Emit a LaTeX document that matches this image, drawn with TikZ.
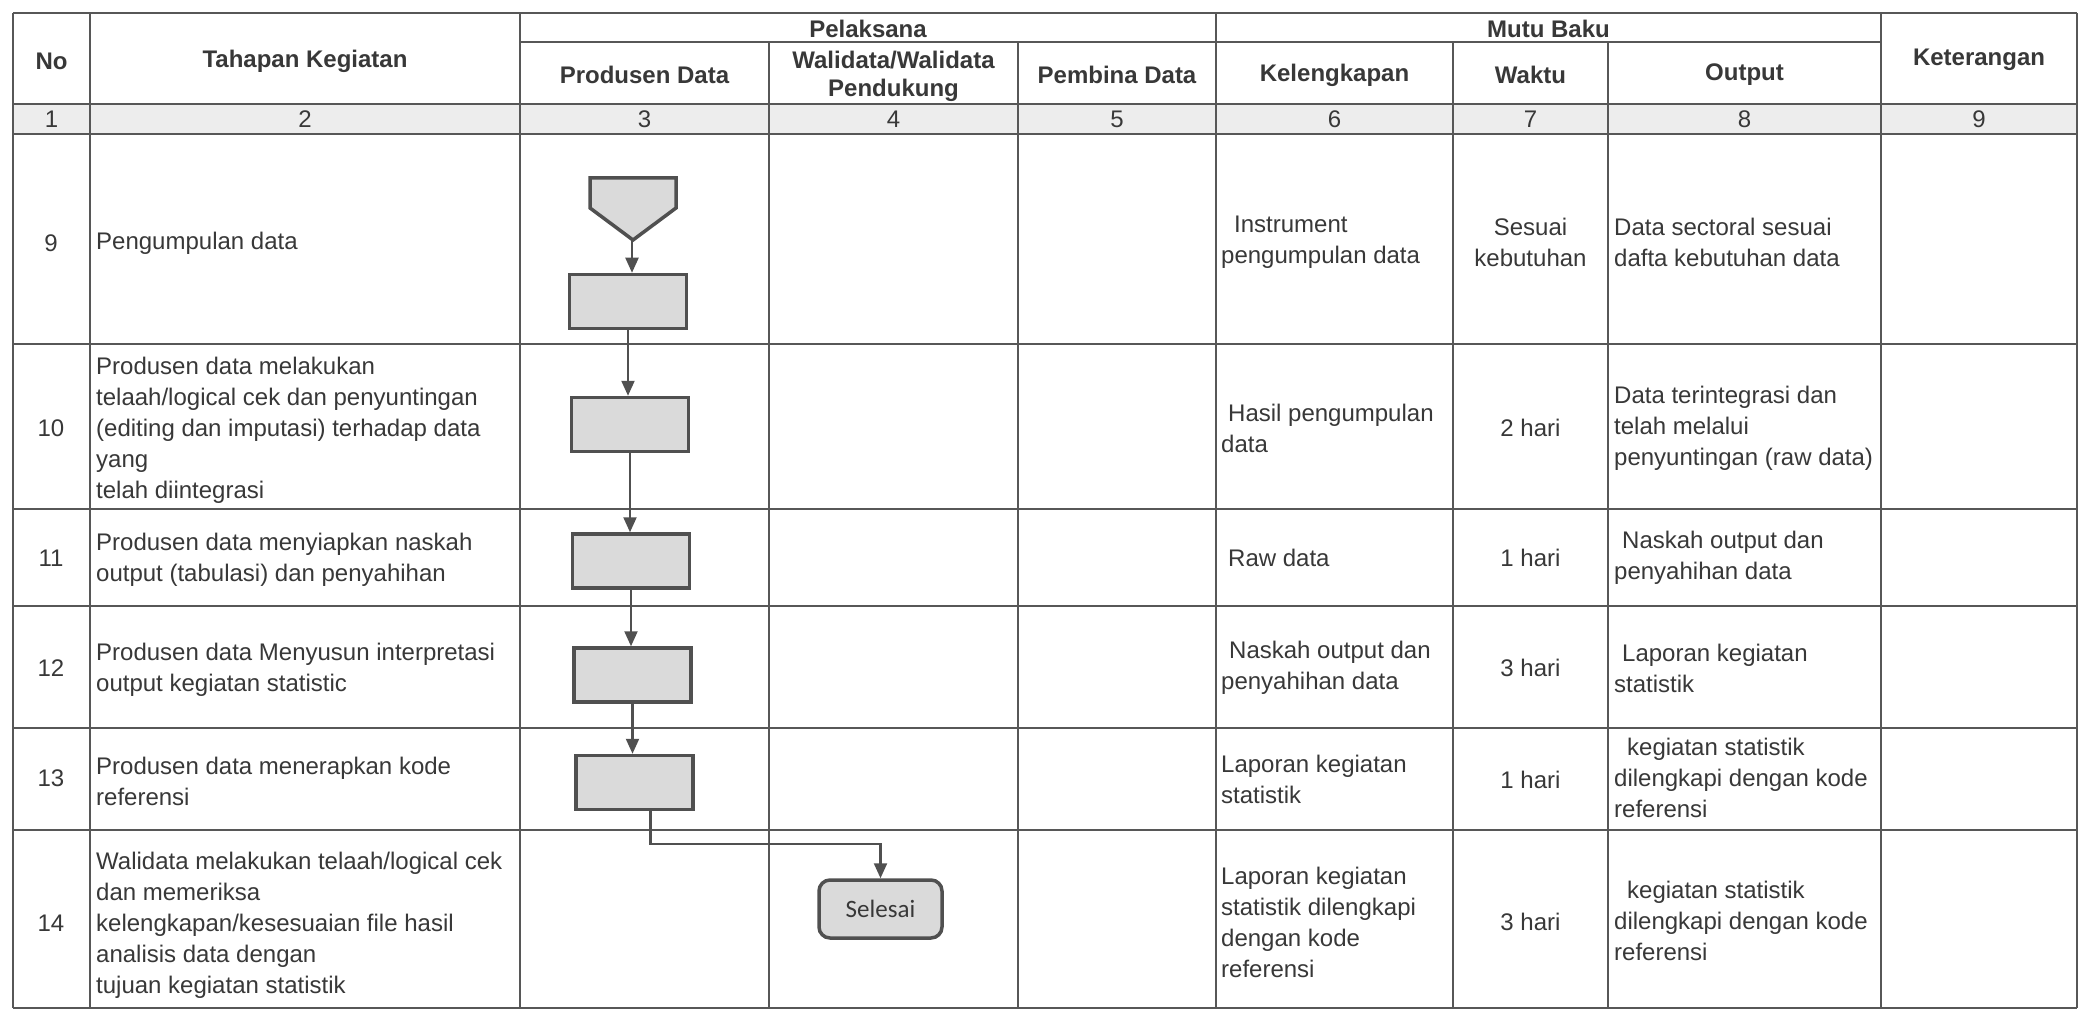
\documentclass[tikz,border=0pt]{standalone}
\usepackage{fontspec}
\setmainfont{Liberation Sans}
\newfontfamily\calfont{Carlito}
\usetikzlibrary{arrows.meta}

\definecolor{rule}{HTML}{575757}
\definecolor{ink}{HTML}{383838}
\definecolor{boxfill}{HTML}{DADADA}
\definecolor{boxline}{HTML}{505050}
\definecolor{numrow}{HTML}{EDEDED}

\begin{document}
\begin{tikzpicture}[x=1pt,y=-1pt,
  vline/.style={draw=rule,line width=2pt},
  hline/.style={draw=rule,line width=2.6pt},
  hdr/.style={font=\fontsize{24}{28}\selectfont\bfseries,text=ink,align=center,inner sep=0pt},
  num/.style={font=\fontsize{24}{28}\selectfont,text=ink,inner sep=0pt},
  cell/.style={font=\fontsize{24}{31}\selectfont,text=ink,align=left,anchor=west,inner sep=0pt},
  ccell/.style={font=\fontsize{24}{31}\selectfont,text=ink,align=center,inner sep=0pt},
  proc/.style={draw=boxline,fill=boxfill,line width=3.5pt,minimum width=117pt,minimum height=54pt,inner sep=0pt},
  endbox/.style={draw=boxline,fill=boxfill,line width=3.5pt,rounded corners=11pt,minimum width=123pt,minimum height=58pt,inner sep=0pt,font=\calfont\fontsize{25}{30}\selectfont,text=ink},
  flow/.style={draw=boxline,line width=2.2pt,-{Triangle[length=15pt,width=13pt]}},
]
% page and background
\useasboundingbox (0,0) rectangle (2081,1011);
\fill[white] (0,0) rectangle (2081,1011);
\fill[numrow] (13,104) rectangle (2077,134);

% table rules
\foreach \y in {13,104,134,344,509,606,728,830,1008}
  \draw[hline] (13,\y) -- (2077,\y);
\draw[hline] (520,42) -- (1881,42);
\foreach \x in {13,90,520,1216,1881,2077}
  \draw[vline] (\x,13) -- (\x,1008);
\foreach \x in {769,1018,1453,1608}
  \draw[vline] (\x,42) -- (\x,1008);

% header
\node[hdr] (hNo)    at (51.5,61)   {No};
\node[hdr] (hTahap) at (305,61)    {Tahapan Kegiatan};
\node[hdr] (hPel)   at (868,29)    {Pelaksana};
\node[hdr] (hProd)  at (644.5,75)  {Produsen Data};
\node[hdr] (hWali)  at (893.5,76)  {Walidata/Walidata\\Pendukung};
\node[hdr] (hPemb)  at (1117,75)   {Pembina Data};
\node[hdr] (hMutu)  at (1548.5,29) {Mutu Baku};
\node[hdr] (hLeng)  at (1334.5,75) {Kelengkapan};
\node[hdr] (hWaktu) at (1530.5,75) {Waktu};
\node[hdr] (hOut)   at (1744.5,75) {Output};
\node[hdr] (hKet)   at (1979,60)   {Keterangan};

% column numbers
\node[num] (c1) at (51.5,119)  {1};
\node[num] (c2) at (305,119)   {2};
\node[num] (c3) at (644.5,119) {3};
\node[num] (c4) at (893.5,119) {4};
\node[num] (c5) at (1117,119)  {5};
\node[num] (c6) at (1334.5,119){6};
\node[num] (c7) at (1530.5,119){7};
\node[num] (c8) at (1744.5,119){8};
\node[num] (c9) at (1979,119)  {9};

% row 9
\node[num]   (n9) at (51,243)   {9};
\node[cell]  (t9) at (96,243)   {Pengumpulan data};
\node[cell]  (k9) at (1221,242) {\hspace*{13pt}Instrument\\pengumpulan data};
\node[ccell] (w9) at (1530.5,242) {Sesuai\\kebutuhan};
\node[cell]  (o9) at (1614,242) {Data sectoral sesuai\\dafta kebutuhan data};

% row 10
\node[num]   (n10) at (51,428)   {10};
\node[cell]  (t10) at (96,430)   {Produsen data melakukan\\telaah/logical cek dan penyuntingan\\(editing dan imputasi) terhadap data\\yang\\telah diintegrasi};
\node[cell]  (k10) at (1221,428) {\hspace*{7pt}Hasil pengumpulan\\data};
\node[ccell] (w10) at (1530.5,428) {2 hari};
\node[cell]  (o10) at (1614,428) {Data terintegrasi dan\\telah melalui\\penyuntingan (raw data)};

% row 11
\node[num]   (n11) at (51,558)   {11};
\node[cell]  (t11) at (96,560)   {Produsen data menyiapkan naskah\\output (tabulasi) dan penyahihan};
\node[cell]  (k11) at (1221,558) {\hspace*{7pt}Raw data};
\node[ccell] (w11) at (1530.5,558) {1 hari};
\node[cell]  (o11) at (1614,558) {\hspace*{8pt}Naskah output dan\\penyahihan data};

% row 12
\node[num]   (n12) at (51,668)   {12};
\node[cell]  (t12) at (96,670)   {Produsen data Menyusun interpretasi\\output kegiatan statistic};
\node[cell]  (k12) at (1221,668) {\hspace*{8pt}Naskah output dan\\penyahihan data};
\node[ccell] (w12) at (1530.5,668) {3 hari};
\node[cell]  (o12) at (1614,668) {\hspace*{8pt}Laporan kegiatan\\statistik};

% row 13
\node[num]   (n13) at (51,778)   {13};
\node[cell]  (t13) at (96,781)   {Produsen data menerapkan kode\\referensi};
\node[cell]  (k13) at (1221,779) {Laporan kegiatan\\statistik};
\node[ccell] (w13) at (1530.5,780) {1 hari};
\node[cell]  (o13) at (1614,778) {\hspace*{13pt}kegiatan statistik\\dilengkapi dengan kode\\referensi};

% row 14
\node[num]   (n14) at (51,923)   {14};
\node[cell]  (t14) at (96,925)   {Walidata melakukan telaah/logical cek\\dan memeriksa\\kelengkapan/kesesuaian file hasil\\analisis data dengan\\tujuan kegiatan statistik};
\node[cell]  (k14) at (1221,922) {Laporan kegiatan\\statistik dilengkapi\\dengan kode\\referensi};
\node[ccell] (w14) at (1530.5,922) {3 hari};
\node[cell]  (o14) at (1614,921) {\hspace*{13pt}kegiatan statistik\\dilengkapi dengan kode\\referensi};

% flow: off-page start connector, process steps and end
\draw[draw=boxline,fill=boxfill,line width=3.5pt,line join=miter]
  (590,178) -- (676,178) -- (676,208) -- (633,240) -- (590,208) -- cycle;
\coordinate (start) at (632,240);
\node[proc] (r1) at (628,301.5) {};
\node[proc] (r2) at (630,424.5) {};
\node[proc] (r3) at (631,561)   {};
\node[proc] (r4) at (632.5,675) {};
\node[proc] (r5) at (634.5,782.5) {};
\node[endbox] (fin) at (880.5,909) {Selesai};

\draw[flow] (start) -- (start |- r1.north);
\draw[flow] (r1.south) -- (r1.south |- r2.north);
\draw[flow] (r2.south) -- (r2.south |- r3.north);
\draw[flow] (r3.south) -- (r3.south |- r4.north);
\draw[flow] (r4.south) -- (r4.south |- r5.north);
\draw[flow] ([xshift=16pt]r5.south) -- ++(0,33) -| (fin.north);
\end{tikzpicture}
\end{document}
